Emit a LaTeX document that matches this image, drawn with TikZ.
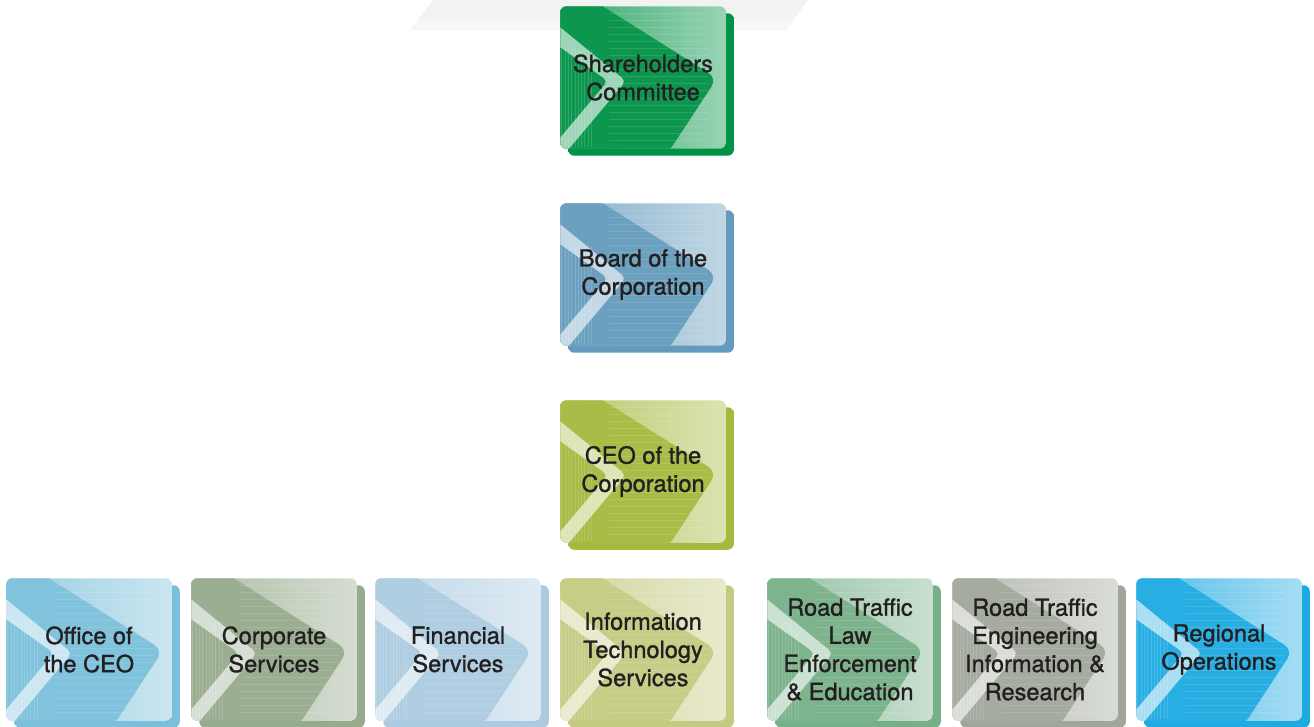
\documentclass[tikz,border=0pt]{standalone}
\usepackage{fontspec}
\setmainfont{TeX Gyre Heros}
\newfontfamily\unitfont{TeX Gyre Heros}[FakeBold=1.2]
\usetikzlibrary{calc,backgrounds}
\definecolor{ShareGreen}{RGB}{0,146,69}
\definecolor{BoardBlue}{RGB}{100,155,188}
\definecolor{CeoOlive}{RGB}{166,185,62}
\definecolor{OfficeBlue}{RGB}{122,192,218}
\definecolor{CorpSage}{RGB}{150,170,140}
\definecolor{FinBlue}{RGB}{172,203,225}
\definecolor{ItOlive}{RGB}{196,202,128}
\definecolor{LawGreen}{RGB}{118,176,136}
\definecolor{EngGray}{RGB}{160,167,154}
\definecolor{RegBlue}{RGB}{30,170,226}
\definecolor{LabelInk}{RGB}{35,31,32}

\tikzset{
  unit/.style={minimum width=1.64cm, minimum height=1.41cm, inner sep=0pt,
    text=LabelInk, align=center, font=\unitfont\fontsize{6.7}{8}\selectfont},
  backbox/.style={rounded corners=0.06cm, left color=#1, middle color=#1!30!white, right color=#1},
  frontbox/.style={rounded corners=0.06cm, left color=#1!78!white, right color=#1!40!white}
}

\begin{document}
\begin{tikzpicture}[x=0.01cm, y=-0.01cm]
  \useasboundingbox (0,0) rectangle (1314,727);

  % top row
  \node[unit] (share) at (643,77.5) {Shareholders\\Committee};
  \node[unit] (board) at (643,274.5) {Board of the\\Corporation};
  \node[unit] (ceo) at (643,471.5) {CEO of the\\Corporation};

  % divisions
  \node[unit] (office) at (89,649.5) {Office of\\the CEO};
  \node[unit] (corp) at (274,649.5) {Corporate\\Services};
  \node[unit] (fin) at (458,649.5) {Financial\\Services};
  \node[unit] (itserv) at (643,649.5) {Information\\Technology\\Services};
  \node[unit] (law) at (850,649.5) {Road Traffic\\Law\\Enforcement\\\& Education};
  \node[unit] (eng) at (1035,649.5) {Road Traffic\\Engineering\\Information \&\\Research};
  \node[unit] (reg) at (1219,649.5) {Regional\\Operations};

  \begin{scope}[on background layer]
    \fill[black!5] (433,0) -- (808,0) -- (794,19) -- (418,19) -- cycle;
    \fill[black!3] (418,19) -- (794,19) -- (787,30) -- (410,30) -- cycle;
    \foreach \n/\col in {share/ShareGreen, board/BoardBlue, ceo/CeoOlive,
        office/OfficeBlue, corp/CorpSage, fin/FinBlue, itserv/ItOlive,
        law/LawGreen, eng/EngGray, reg/RegBlue} {
      \path[backbox=\col] ($(\n.north west)+(8,7)$) rectangle ($(\n.south east)+(8,7)$);
      \path[frontbox=\col] (\n.north west) rectangle (\n.south east);
      \begin{scope}
        \clip[rounded corners=0.06cm] (\n.north west) rectangle (\n.south east);
        \begin{scope}[shift={(\n.north west)}, x=1.64cm, y=-1.41cm]
          % arrow shaped panel
          \fill[\col!95!white, rounded corners=0.1cm]
            (-0.05,-0.05) -- (0.19,-0.05) -- (0.955,0.51) -- (0.65,1.05) -- (-0.05,1.05) -- cycle;
          \foreach \k in {0.05,0.1,...,1}
            \draw[white, opacity=0.12, line width=0.25pt] (0.3,\k) -- (0.9,\k);
          \foreach \k in {0.01,0.03,...,0.2}
            \draw[white, opacity=0.15, line width=0.25pt] (\k,0.3) -- (\k,1);
          % pale chevron stripe
          \fill[white, opacity=0.6, even odd rule, rounded corners=0.05cm]
            (-0.05,0.102) -- (0.40,0.53) -- (0.024,1.05) -- (-0.05,1.05) -- cycle
            (-0.05,0.249) -- (0.29,0.53) -- (-0.05,1.0) -- cycle;
        \end{scope}
      \end{scope}
    }
  \end{scope}
\end{tikzpicture}
\end{document}
